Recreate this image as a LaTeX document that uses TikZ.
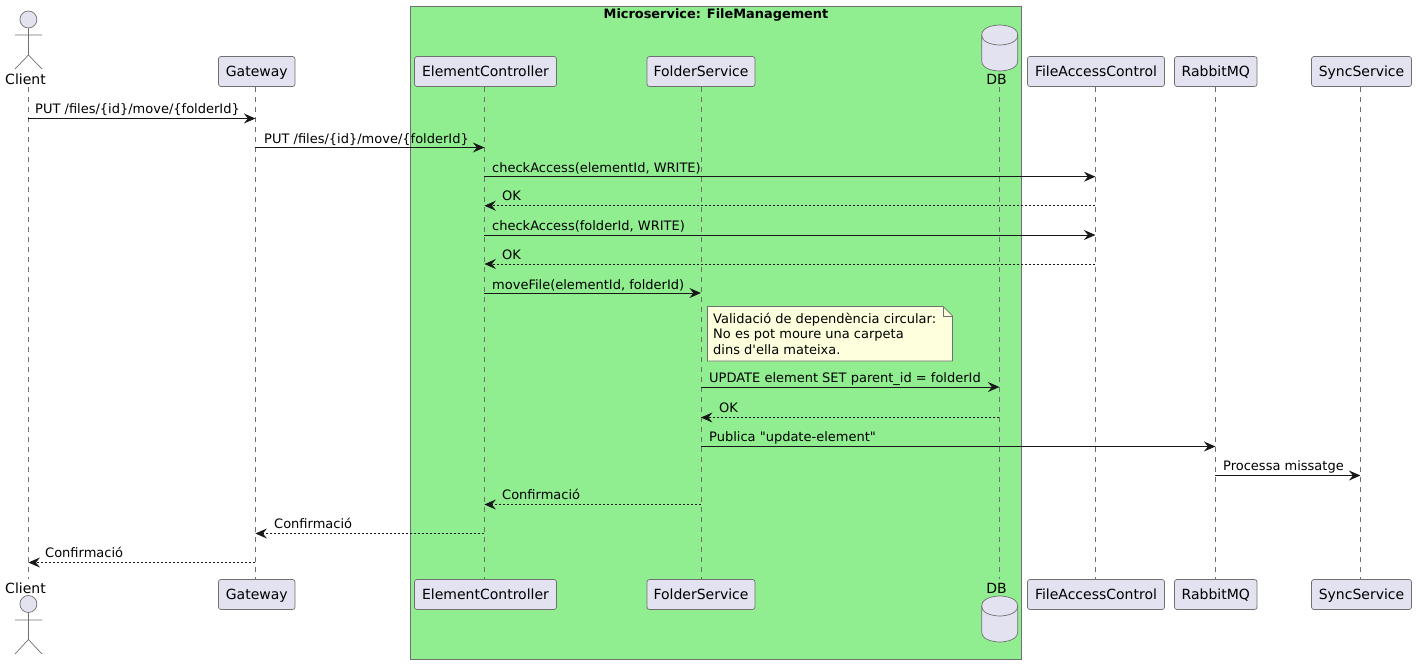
\documentclass[tikz,border=0pt]{standalone}
\usepackage{fontspec}
\setmainfont{DejaVu Sans}[Ligatures=TeXOff]
\usetikzlibrary{arrows.meta}
\definecolor{partfill}{HTML}{E2E2F0}
\definecolor{ink}{HTML}{181818}
\definecolor{soft}{HTML}{707070}
\definecolor{groupfill}{HTML}{90EE90}
\definecolor{notefill}{HTML}{FEFFDD}
\tikzset{
  part/.style={draw=soft,line width=.7pt,fill=partfill,rounded corners=2.5pt,minimum height=30pt,inner sep=0pt,text height=11.5pt,text depth=2.5pt,font=\fontsize{14}{16}\selectfont,text=black},
  actorline/.style={draw=soft,line width=.7pt},
  actorhead/.style={draw=soft,line width=.7pt,fill=partfill},
  partlbl/.style={inner sep=0pt,anchor=base,font=\fontsize{14}{16}\selectfont,text=black},
  life/.style={draw=soft,line width=.6pt,dash pattern=on 5pt off 5pt},
  call/.style={draw=ink,line width=1pt,-{Stealth[length=11.5pt,width=10pt,inset=4pt,fill=ink]}},
  ret/.style={draw=ink,line width=1pt,dash pattern=on 2pt off 2pt,-{Stealth[length=11.5pt,width=10pt,inset=4pt,fill=ink,sep=0pt]}},
  lbl/.style={inner sep=0pt,anchor=base west,font=\fontsize{13}{15.5}\selectfont,text=black},
}
\begin{document}
\begin{tikzpicture}[x=1pt,y=-1pt]
\useasboundingbox (0,0) rectangle (1416,664);
% group box
\path[draw=soft,line width=.7pt,fill=groupfill] (410.5,6.5) rectangle (1021.5,659.5);
\node[inner sep=0pt,anchor=base,font=\fontsize{12.9}{15.5}\selectfont\bfseries,text=black] (grouptitle) at (716,18) {Microservice: FileManagement};
% lifeline end points
\coordinate (clH) at (28.4,87);
\coordinate (clF) at (28.4,579);
\coordinate (gwH) at (255.4,87);
\coordinate (gwF) at (255.4,579);
\coordinate (ecH) at (484.4,87);
\coordinate (ecF) at (484.4,579);
\coordinate (fsH) at (700.9,87);
\coordinate (fsF) at (700.9,579);
\coordinate (dbH) at (999.4,87);
\coordinate (dbF) at (999.4,579);
\coordinate (faH) at (1095.4,87);
\coordinate (faF) at (1095.4,579);
\coordinate (rmH) at (1215.4,87);
\coordinate (rmF) at (1215.4,579);
\coordinate (syH) at (1360.4,87);
\coordinate (syF) at (1360.4,579);
% lifelines
\draw[life] (clH) -- (clF);
\draw[life] (gwH) -- (gwF);
\draw[life] (ecH) -- (ecF);
\draw[life] (fsH) -- (fsF);
\draw[life] (dbH) -- (dbF);
\draw[life] (faH) -- (faF);
\draw[life] (rmH) -- (rmF);
\draw[life] (syH) -- (syF);
% heads
\node[part,minimum width=76.5pt] (gw) at (256.75,71.5) {Gateway};
\node[part,minimum width=142pt] (ec) at (485.5,71.5) {ElementController};
\node[part,minimum width=108pt] (fs) at (701,71.5) {FolderService};
\node[part,minimum width=137pt] (fa) at (1096,71.5) {FileAccessControl};
\node[part,minimum width=82.5pt] (rm) at (1215.75,71.5) {RabbitMQ};
\node[part,minimum width=100pt] (sy) at (1361.5,71.5) {SyncService};
% feet
\node[part,minimum width=76.5pt] (gwB) at (256.75,594.5) {Gateway};
\node[part,minimum width=142pt] (ecB) at (485.5,594.5) {ElementController};
\node[part,minimum width=108pt] (fsB) at (701,594.5) {FolderService};
\node[part,minimum width=137pt] (faB) at (1096,594.5) {FileAccessControl};
\node[part,minimum width=82.5pt] (rmB) at (1215.75,594.5) {RabbitMQ};
\node[part,minimum width=100pt] (syB) at (1361.5,594.5) {SyncService};
% client actors
\draw[actorhead] (28.4,19.5) circle (8.5);
\draw[actorline] (28.4,28) -- (28.4,55) (15,35) -- (42,35) (15,69) -- (28.4,55) -- (42,69);
\node[partlbl] (clT) at (25.5,84) {Client};
\node[partlbl] (clTB) at (25.5,593) {Client};
\draw[actorhead] (28.4,604) circle (8.5);
\draw[actorline] (28.4,612.5) -- (28.4,639.5) (15,620) -- (42,620) (15,654) -- (28.4,639.5) -- (42,654);
% databases
\draw[actorhead] (981.7,35) .. controls (981.7,25) and (999.7,25) .. (999.7,25) .. controls (999.7,25) and (1017.7,25) .. (1017.7,35)
  -- (1017.7,61) .. controls (1017.7,71) and (999.7,71) .. (999.7,71) .. controls (999.7,71) and (981.7,71) .. (981.7,61) -- cycle;
\draw[actorline] (981.7,35) .. controls (981.7,45) and (999.7,45) .. (999.7,45) .. controls (999.7,45) and (1017.7,45) .. (1017.7,35);
\node[partlbl] (dbT) at (996.5,84) {DB};
\draw[actorhead] (981.7,606) .. controls (981.7,596) and (999.7,596) .. (999.7,596) .. controls (999.7,596) and (1017.7,596) .. (1017.7,606)
  -- (1017.7,632) .. controls (1017.7,642) and (999.7,642) .. (999.7,642) .. controls (999.7,642) and (981.7,642) .. (981.7,632) -- cycle;
\draw[actorline] (981.7,606) .. controls (981.7,616) and (999.7,616) .. (999.7,616) .. controls (999.7,616) and (1017.7,616) .. (1017.7,606);
\node[partlbl] (dbTB) at (996.5,593) {DB};
% rows
\coordinate (r1) at (0,118.5);
\coordinate (r2) at (0,147.5);
\coordinate (r3) at (0,176.7);
\coordinate (r4) at (0,205.7);
\coordinate (r5) at (0,235);
\coordinate (r6) at (0,264);
\coordinate (r7) at (0,293);
\coordinate (r8) at (0,387);
\coordinate (r9) at (0,417.5);
\coordinate (r10) at (0,446.5);
\coordinate (r11) at (0,475.5);
\coordinate (r12) at (0,504.5);
\coordinate (r13) at (0,533.5);
\coordinate (r14) at (0,562.5);
% messages
\draw[call] (clH |- r1) -- (gwH |- r1);
\node[lbl] (m1) at (35,113) {PUT /files/\{id\}/move/\{folderId\}};
\draw[call] (gwH |- r2) -- (ecH |- r2);
\node[lbl] (m2) at (264,143) {PUT /files/\{id\}/move/\{folderId\}};
\draw[call] (ecH |- r3) -- (faH |- r3);
\node[lbl] (m3) at (492,172) {checkAccess(elementId, WRITE)};
\draw[ret] (faH |- r4) -- (ecH |- r4);
\node[lbl] (m4) at (502,200) {OK};
\draw[call] (ecH |- r5) -- (faH |- r5);
\node[lbl] (m5) at (492,230) {checkAccess(folderId, WRITE)};
\draw[ret] (faH |- r6) -- (ecH |- r6);
\node[lbl] (m6) at (502,259) {OK};
\draw[call] (ecH |- r7) -- (fsH |- r7);
\node[lbl] (m7) at (492,289) {moveFile(elementId, folderId)};
% note
\path[draw=soft,line width=.7pt,fill=notefill] (707.5,306.5) -- (943,306.5) -- (952.5,316) -- (952.5,361) -- (707.5,361) -- cycle;
\draw[draw=soft,line width=.7pt] (943,306.5) -- (943,316) -- (952.5,316);
\node[inner sep=0pt,anchor=north west,align=left,font=\fontsize{13}{15.5}\selectfont,text=black] (note) at (713,312.5) {Validació de dependència circular:\\No es pot moure una carpeta\\dins d'ella mateixa.};
\draw[call] (fsH |- r8) -- (dbH |- r8);
\node[lbl] (m8) at (709,382) {UPDATE element SET parent\_id = folderId};
\draw[ret] (dbH |- r9) -- (fsH |- r9);
\node[lbl] (m9) at (719,412) {OK};
\draw[call] (fsH |- r10) -- (rmH |- r10);
\node[lbl] (m10) at (709,441) {Publica "update-element"};
\draw[call] (rmH |- r11) -- (syH |- r11);
\node[lbl] (m11) at (1223,470) {Processa missatge};
\draw[ret] (fsH |- r12) -- (ecH |- r12);
\node[lbl] (m12) at (502,499) {Confirmació};
\draw[ret] (ecH |- r13) -- (gwH |- r13);
\node[lbl] (m13) at (274,528) {Confirmació};
\draw[ret] (gwH |- r14) -- (clH |- r14);
\node[lbl] (m14) at (45,557) {Confirmació};
\end{tikzpicture}
\end{document}
